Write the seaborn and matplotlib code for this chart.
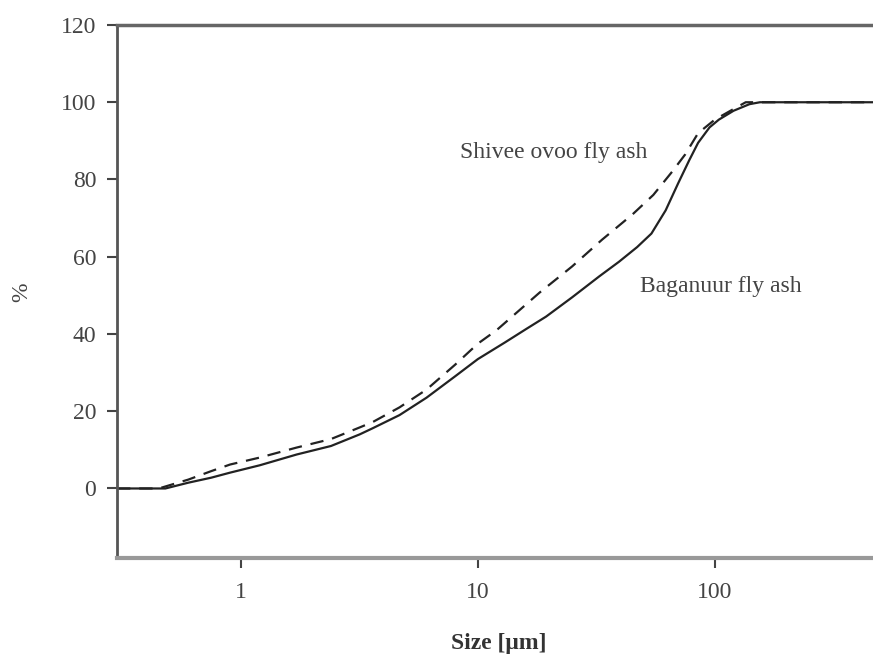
import matplotlib
matplotlib.use("Agg")
import matplotlib.pyplot as plt
import seaborn as sns
import pandas as pd

# Data
bag_size = [0.3, 0.48, 0.6, 0.75, 0.9, 1.2, 1.72, 2.4, 3.17, 3.6, 4.67, 6.07, 8.0, 10, 13, 16,
            19.4, 25, 32.5, 39.4, 47, 54, 62, 70, 78, 85, 95, 104, 120, 140, 155, 465]
bag_pct = [0, 0, 1.5, 2.8, 4.1, 6.0, 8.8, 11.0, 14.0, 15.6, 19.0, 23.5, 29.0, 33.5, 37.8, 41.3,
           44.5, 49.5, 54.9, 58.7, 62.5, 66.0, 72.0, 79.0, 85.0, 89.5, 93.5, 95.5, 97.8, 99.5, 100, 100]
shi_size = [0.3, 0.45, 0.6, 0.75, 0.9, 1.2, 1.72, 2.4, 3.17, 3.6, 4.67, 6.07, 8.0, 10, 12,
            18.2, 25, 33.4, 45, 55, 66, 75, 85, 100, 118, 135, 465]
shi_pct = [0, 0, 2.3, 4.5, 6.2, 8.0, 10.6, 12.8, 15.8, 17.2, 21.0, 25.6, 32.0, 37.5, 41.0,
           50.7, 57.5, 64.4, 71.0, 76.0, 82.0, 86.5, 92.0, 95.5, 98.0, 100, 100]

y_ticks = [0, 20, 40, 60, 80, 100, 120]
x_ticks = [1, 10, 100]
x_ticklabels = ["1", "10", "100"]

sns.set_theme(style="white")
plt.rcParams['font.family'] = ['Liberation Serif', 'DejaVu Serif']

fig = plt.figure(figsize=(8.73, 6.56), dpi=100)
ax = fig.add_axes([117/873, 1 - 558/656, 1 - 117/873, (558 - 25)/656])

bag = pd.DataFrame({"size": bag_size, "pct": bag_pct})
shi = pd.DataFrame({"size": shi_size, "pct": shi_pct})

sns.lineplot(data=bag, x="size", y="pct", ax=ax, color="#222222", lw=1.6)
sns.lineplot(data=shi, x="size", y="pct", ax=ax, color="#222222", lw=1.6,
             linestyle=(0, (6, 4)))

ax.set_xscale("log")
ax.set_xlim(0.3, 465)
ax.set_ylim(-18, 120)
ax.set_xticks(x_ticks)
ax.set_xticklabels(x_ticklabels)
ax.minorticks_off()
ax.set_yticks(y_ticks)

ax.tick_params(axis="both", direction="out", length=7, width=1.5, colors="#444444",
               labelsize=17, labelcolor="#444444", bottom=True, left=True)
ax.tick_params(axis="x", pad=10)
ax.tick_params(axis="y", pad=8)

ax.spines["right"].set_visible(False)
ax.spines["left"].set_color("#555555")
ax.spines["left"].set_linewidth(2)
ax.spines["top"].set_color("#666666")
ax.spines["top"].set_linewidth(2.5)
ax.spines["bottom"].set_color("#999999")
ax.spines["bottom"].set_linewidth(3)

ax.set_xlabel("Size [μm]", fontsize=17, fontweight="bold", color="#333333")
ax.xaxis.set_label_coords((499 - 117) / 756, (558 - 643) / 533)
ax.xaxis.label.set_va("center")
ax.set_ylabel("%", fontsize=17, color="#444444")
ax.yaxis.set_label_coords((22 - 117) / 756, (558 - 292) / 533)
ax.yaxis.label.set_va("center")

ax.text(8.4, 87, "Shivee ovoo fly ash", fontsize=17, color="#444444", va="center", ha="left")
ax.text(48.3, 52.3, "Baganuur fly ash", fontsize=17, color="#444444", va="center", ha="left")

fig.savefig("out.png", dpi=100)
